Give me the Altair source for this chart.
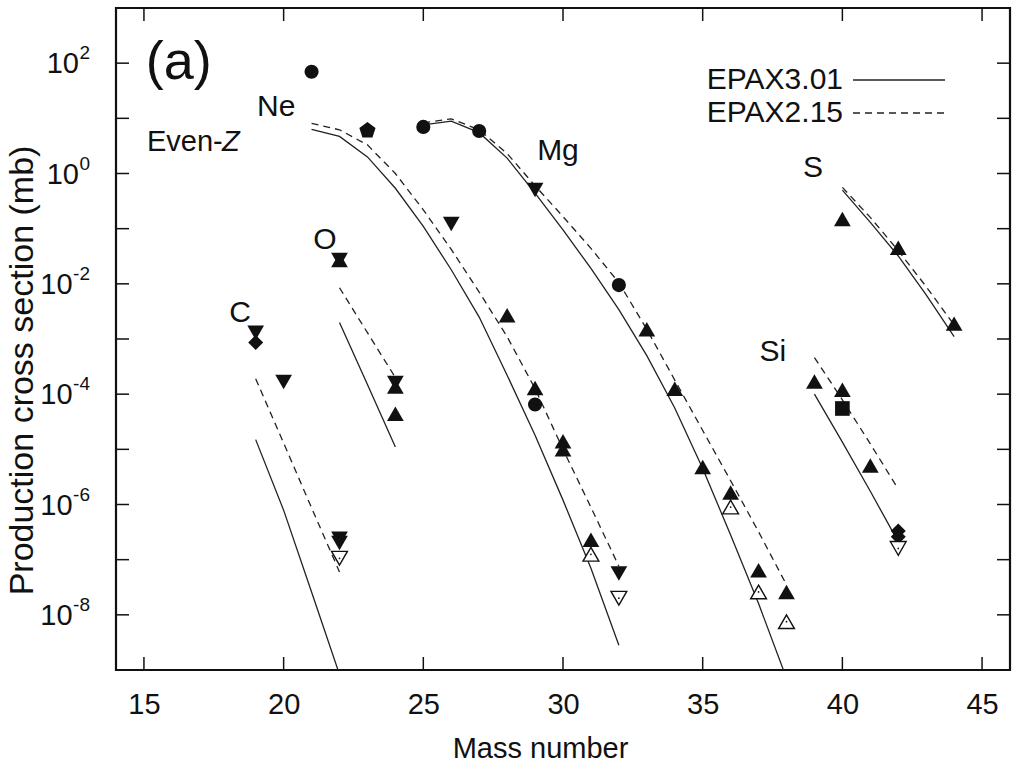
import altair as alt
import pandas as pd

FONT = "Liberation Sans"
INK = "#111111"
W, H = 894, 662

# ---------------- model curves (EPAX3.01 solid, EPAX2.15 dashed) ----------------
C_MASS = [19, 20, 21, 22]
C_EPAX301 = [1.5e-5, 7.9e-7, 2.6e-8, 8.3e-10]
C_EPAX215 = [1.9e-4, 1.3e-5, 8.7e-7, 6.0e-8]

O_MASS = [22, 23, 24]
O_EPAX301 = [2.0e-3, 1.5e-4, 1.1e-5]
O_EPAX215 = [8.5e-3, 1.3e-3, 2.0e-4]

NE_MASS = [21, 22, 23, 24, 25, 26, 27, 28, 29, 30, 31, 32]
NE_EPAX301 = [6.3, 4.7, 2.0, 0.54, 0.11, 1.8e-2, 2.5e-3, 2.2e-4, 1.8e-5, 1.2e-6, 7.0e-8, 2.8e-9]
NE_EPAX215 = [8.1, 6.2, 3.3, 1.0, 0.22, 4.2e-2, 7.1e-3, 1.1e-3, 1.26e-4, 1.0e-5, 8.9e-7, 7.6e-8]

MG_MASS = [25, 26, 27, 28, 29, 30, 31, 32, 33, 34, 35, 36, 37, 38]
MG_EPAX301 = [7.6, 8.9, 5.5, 1.9, 0.44, 9.5e-2, 1.9e-2, 3.4e-3, 5.0e-4, 5.6e-5, 4.5e-6, 2.8e-7, 1.6e-8, 7.1e-10]
MG_EPAX215 = [8.3, 9.8, 6.2, 2.3, 0.60, 0.166, 4.4e-2, 1.05e-2, 1.5e-3, 1.8e-4, 2.2e-5, 2.7e-6, 3.2e-7, 3.5e-8]

SI_MASS = [39, 40, 41, 42]
SI_EPAX301 = [1.0e-4, 1.35e-5, 1.74e-6, 2.1e-7]
SI_EPAX215 = [4.6e-4, 7.9e-5, 1.26e-5, 1.9e-6]

S_MASS = [40, 41, 42, 43, 44]
S_EPAX301 = [0.50, 0.13, 3.2e-2, 6.3e-3, 1.1e-3]
S_EPAX215 = [0.56, 0.16, 4.0e-2, 8.9e-3, 1.8e-3]

# ---------------- measured cross sections ----------------
EXP_MASS = [19, 19, 20, 22, 22, 22,
            22, 22, 24, 24, 24,
            21, 23, 26, 28, 29, 29, 30, 30, 31, 31, 32, 32,
            25, 27, 29, 32, 33, 34, 35, 36, 36, 37, 37, 38, 38,
            39, 40, 40, 41, 42, 42, 42,
            40, 42, 44]
EXP_VALUE = [1.3e-3, 8.6e-4, 1.66e-4, 2.4e-7, 2.0e-7, 1.06e-7,
             2.7e-2, 2.7e-2, 1.6e-4, 1.38e-4, 4.4e-5,
             70, 6.0, 0.122, 2.7e-3, 1.3e-4, 6.5e-5, 1.4e-5, 1.0e-5, 2.3e-7, 1.25e-7, 5.6e-8, 2.0e-8,
             7.0, 5.9, 0.50, 9.5e-3, 1.5e-3, 1.25e-4, 4.8e-6, 1.65e-6, 9.0e-7, 6.4e-8, 2.6e-8, 2.6e-8, 7.5e-9,
             1.7e-4, 1.2e-4, 5.5e-5, 5.1e-6, 3.3e-7, 2.6e-7, 1.6e-7,
             0.15, 4.5e-2, 1.9e-3]
EXP_MARKER = ["tri_down", "diamond", "tri_down", "tri_down", "tri_down", "open_down",
              "tri_down", "tri_up", "tri_down", "tri_up", "tri_up",
              "circle", "pentagon", "tri_down", "tri_up", "tri_up", "circle", "tri_up", "tri_up",
              "tri_up", "open_up", "tri_down", "open_down",
              "circle", "circle", "tri_down", "circle", "tri_up", "tri_up", "tri_up", "tri_up", "open_up",
              "tri_up", "open_up", "tri_up", "open_up",
              "tri_up", "tri_up", "square", "tri_up", "diamond", "diamond", "open_down",
              "tri_up", "tri_up", "tri_up"]

# ---------------- annotations ----------------
LABEL_TEXT = ["O", "C", "Mg", "S", "Si"]
LABEL_MASS = [21.48, 18.44, 29.82, 38.95, 37.51]
LABEL_VALUE = [0.062, 3.0e-3, 2.6, 1.26, 5.8e-4]

X_TICKS = [15, 20, 25, 30, 35, 40, 45]
Y_TICKS = [1e-8, 1e-7, 1e-6, 1e-5, 1e-4, 1e-3, 1e-2, 1e-1, 1e0, 1e1, 1e2]
YLAB_VALUE = [1e2, 1e0, 1e-2, 1e-4, 1e-6, 1e-8]
YLAB_EXP = ["2", "0", "-2", "-4", "-6", "-8"]

# ---------------- tables ----------------
rows = []
for chain, m, a, b in [("C", C_MASS, C_EPAX301, C_EPAX215), ("O", O_MASS, O_EPAX301, O_EPAX215),
                       ("Ne", NE_MASS, NE_EPAX301, NE_EPAX215), ("Mg", MG_MASS, MG_EPAX301, MG_EPAX215),
                       ("Si", SI_MASS, SI_EPAX301, SI_EPAX215), ("S", S_MASS, S_EPAX301, S_EPAX215)]:
    for i in range(len(m)):
        rows.append({"chain": chain, "model": "EPAX3.01", "mass": m[i], "value": a[i], "i": i})
        rows.append({"chain": chain, "model": "EPAX2.15", "mass": m[i], "value": b[i], "i": i})
lines_df = pd.DataFrame(rows)
pts_df = pd.DataFrame({"mass": EXP_MASS, "value": EXP_VALUE, "marker": EXP_MARKER})
lab_df = pd.DataFrame({"text": LABEL_TEXT, "mass": LABEL_MASS, "value": LABEL_VALUE})

EXP_FS = 19
LAB_FS = 29
exp_w = [sum(0.333 if ch == "-" else 0.556 for ch in e) * EXP_FS for e in YLAB_EXP]
ylab_df = pd.DataFrame({"value": YLAB_VALUE, "exp": YLAB_EXP,
                        "ten_x": [-26 - w - 0.5 for w in exp_w], "exp_x": [-26] * len(YLAB_EXP)})

XS = alt.Scale(domain=[14, 46], nice=False, zero=False)
YS = alt.Scale(type="log", domain=[1e-9, 1e3], nice=False)
XAX = alt.Axis(values=X_TICKS, ticks=False, tickSize=0, domain=False, grid=False,
               labelFont=FONT, labelFontSize=LAB_FS, labelColor=INK, labelPadding=20,
               title="Mass number", titleFont=FONT, titleFontSize=LAB_FS, titleFontWeight="normal",
               titleColor=INK, titleX=424, titleY=78, titleBaseline="middle")
YAX = alt.Axis(labels=False, ticks=False, domain=False, grid=False,
               title="Production cross section (mb)", titleFont=FONT, titleFontSize=34,
               titleFontWeight="normal", titleColor=INK, titleAngle=270,
               titleX=-94, titleY=362, titleAlign="center", titleBaseline="middle")


def X(f="mass"):
    return alt.X(f"{f}:Q", scale=XS, axis=XAX)


def Y(f="value"):
    return alt.Y(f"{f}:Q", scale=YS, axis=YAX)


xt = pd.DataFrame({"mass": X_TICKS})
yt = pd.DataFrame({"value": Y_TICKS})
TL = 13
ticks = [
    alt.Chart(xt).mark_rule(color=INK, strokeWidth=1.5).encode(x=X(), y=alt.value(H), y2=alt.value(H - TL)),
    alt.Chart(xt).mark_rule(color=INK, strokeWidth=1.5).encode(x=X(), y=alt.value(0), y2=alt.value(TL)),
    alt.Chart(yt).mark_rule(color=INK, strokeWidth=1.5).encode(y=Y(), x=alt.value(0), x2=alt.value(TL)),
    alt.Chart(yt).mark_rule(color=INK, strokeWidth=1.5).encode(y=Y(), x=alt.value(W), x2=alt.value(W - TL)),
]

solid = alt.Chart(lines_df).transform_filter(alt.datum.model == "EPAX3.01").mark_line(
    color="#222222", strokeWidth=1.3, clip=True).encode(x=X(), y=Y(), detail="chain:N", order="i:Q")
dashed = alt.Chart(lines_df).transform_filter(alt.datum.model == "EPAX2.15").mark_line(
    color="#222222", strokeWidth=1.3, strokeDash=[7, 5], clip=True).encode(
    x=X(), y=Y(), detail="chain:N", order="i:Q")

PENT = "M0,-1L0.951,-0.309L0.588,0.809L-0.588,0.809L-0.951,-0.309Z"
FILLED = [("circle", "circle", 200), ("pentagon", PENT, 290), ("tri_down", "triangle-down", 280),
          ("tri_up", "triangle-up", 280), ("diamond", "diamond", 225), ("square", "square", 215)]
filled_layers = [
    alt.Chart(pts_df).transform_filter(alt.datum.marker == key).mark_point(
        filled=True, color=INK, opacity=1, strokeWidth=0, shape=shp, size=sz).encode(x=X(), y=Y())
    for key, shp, sz in FILLED
]
open_layers = []
for key, shp in [("open_up", "triangle-up"), ("open_down", "triangle-down")]:
    open_layers.append(alt.Chart(pts_df).transform_filter(alt.datum.marker == key).mark_point(
        filled=False, fill="white", fillOpacity=1, stroke=INK, strokeWidth=1.4, opacity=1,
        size=250, shape=shp).encode(x=X(), y=Y()))
    open_layers.append(alt.Chart(pts_df).transform_filter(alt.datum.marker == key).mark_point(
        filled=True, color=INK, size=3, shape="circle", opacity=1).encode(x=X(), y=Y()))

labels = alt.Chart(lab_df).mark_text(font=FONT, fontSize=30, color=INK, align="center",
                                     baseline="middle").encode(x=X(), y=Y(), text="text:N")
one = pd.DataFrame({"mass": [15.11], "value": [3.7]})
even = alt.Chart(one).mark_text(font=FONT, fontSize=29, color=INK, align="left", baseline="middle").encode(
    x=X(), y=Y(), text=alt.value("Even-"))
evenz = alt.Chart(one).mark_text(font=FONT, fontSize=29, color=INK, align="left", baseline="middle",
                                 fontStyle="italic", dx=75).encode(x=X(), y=Y(), text=alt.value("Z"))
ne_df = pd.DataFrame({"mass": [19.05], "value": [16.0]})
ne = alt.Chart(ne_df).mark_text(font=FONT, fontSize=30, color=INK, align="left", baseline="middle").encode(
    x=X(), y=Y(), text=alt.value("Ne"))
a_df = pd.DataFrame({"mass": [16.25], "value": [100.0]})
panel = alt.Chart(a_df).mark_text(font=FONT, fontSize=54, color=INK, align="center", baseline="middle").encode(
    x=X(), y=Y(), text=alt.value("(a)"))

ten = alt.Chart(ylab_df).mark_text(font=FONT, fontSize=LAB_FS, color=INK, align="right",
                                   baseline="middle", dy=1).encode(
    x=alt.X("ten_x:Q", scale=None), y=Y(), text=alt.value("10"))
expo = alt.Chart(ylab_df).mark_text(font=FONT, fontSize=EXP_FS, color=INK, align="right",
                                    baseline="middle", dy=-10).encode(
    x=alt.X("exp_x:Q", scale=None), y=Y(), text="exp:N")

dummy = pd.DataFrame({"k": [0]})
leg = [
    alt.Chart(dummy).mark_text(font=FONT, fontSize=30, color=INK, align="right", baseline="middle").encode(
        x=alt.value(727), y=alt.value(72), text=alt.value("EPAX3.01")),
    alt.Chart(dummy).mark_text(font=FONT, fontSize=30, color=INK, align="right", baseline="middle").encode(
        x=alt.value(727), y=alt.value(105), text=alt.value("EPAX2.15")),
    alt.Chart(dummy).mark_rule(color="#222222", strokeWidth=1.3).encode(
        x=alt.value(737), x2=alt.value(829), y=alt.value(72)),
    alt.Chart(dummy).mark_rule(color="#222222", strokeWidth=1.3, strokeDash=[7, 5]).encode(
        x=alt.value(737), x2=alt.value(829), y=alt.value(105)),
]

chart = alt.layer(*ticks, solid, dashed, *filled_layers, *open_layers, labels, even, evenz, ne, panel,
                  ten, expo, *leg).properties(
    width=W, height=H, background="white",
    autosize=alt.AutoSizeParams(type="none"),
    padding={"left": 116, "top": 8, "right": 4, "bottom": 99},
).configure_view(stroke=INK, strokeWidth=2.2)

chart.save("out.html", embed_options={"renderer": "svg", "actions": False})
